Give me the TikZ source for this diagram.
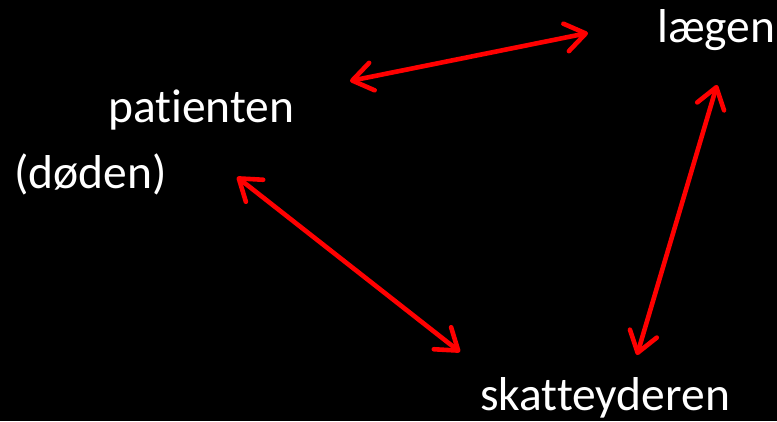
\documentclass[tikz,border=0pt]{standalone}
\usepackage{fontspec}
\setmainfont[Ligatures={NoCommon,NoRequired,NoContextual}]{Carlito}
\usetikzlibrary{arrows.meta}
\begin{document}
\begin{tikzpicture}[x=1pt,y=-1pt,
  lbl/.style={text=white,inner sep=0pt,anchor=base west,font=\fontsize{47.5}{56}\selectfont},
  tip/.style={Straight Barb[length=20pt,width=28pt,line cap=round,line join=round]},
  link/.style={draw=red,line width=4.6pt,line cap=round,{Straight Barb[length=20pt,width=28pt,line cap=round,line join=round]}-{Straight Barb[length=20pt,width=28pt,line cap=round,line join=round]}}]
\fill[black] (0,0) rectangle (777,421);
\useasboundingbox (0,0) rectangle (777,421);
\node[lbl] (pat) at (108,122) {patienten};
\node[lbl] (dod) at (14,188) {(døden)};
\node[lbl] (laeg) at (657,42) {lægen};
\node[lbl] (skat) at (480,410) {skatteyderen};
\coordinate (a1) at (350,81);
\coordinate (b1) at (588,33);
\coordinate (a2) at (717,85);
\coordinate (b2) at (637,355);
\coordinate (a3) at (237,177);
\coordinate (b3) at (460,352);
\draw[link] (a1) -- (b1);
\draw[link] (a2) -- (b2);
\draw[link] (a3) -- (b3);
\end{tikzpicture}
\end{document}
